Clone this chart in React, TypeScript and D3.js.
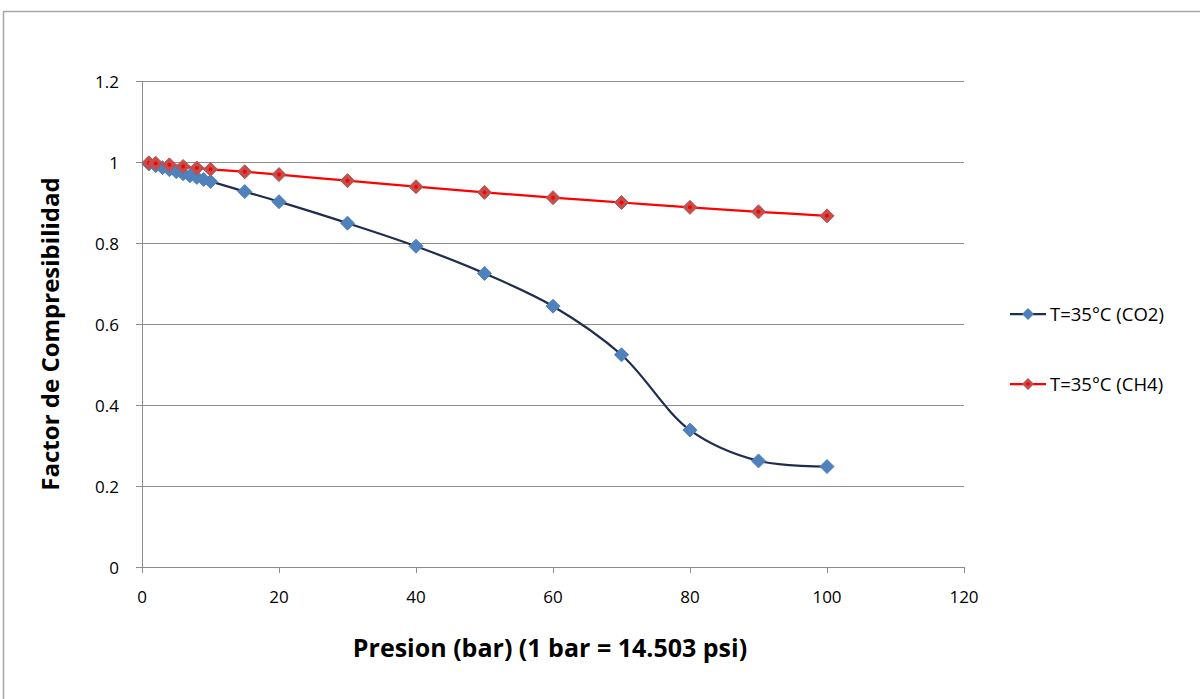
import React from "react";
import * as d3 from "d3";

const xTicks = [0, 20, 40, 60, 80, 100, 120];
const yTicks = [0, 0.2, 0.4, 0.6, 0.8, 1.0, 1.2];

const co2Pressure = [1, 2, 3, 4, 5, 6, 7, 8, 9, 10, 15, 20, 30, 40, 50, 60, 70, 80, 90, 100];
const co2Z = [0.995, 0.991, 0.986, 0.981, 0.976, 0.971, 0.966, 0.962, 0.957, 0.952, 0.927, 0.902, 0.849, 0.792, 0.725, 0.644, 0.524, 0.338, 0.262, 0.248];

const ch4Pressure = [1, 2, 4, 6, 8, 10, 15, 20, 30, 40, 50, 60, 70, 80, 90, 100];
const ch4Z = [0.998, 0.997, 0.993, 0.989, 0.985, 0.982, 0.976, 0.969, 0.954, 0.939, 0.925, 0.912, 0.900, 0.888, 0.877, 0.867];

const seriesNames = ["T=35°C (CO2)", "T=35°C (CH4)"];

const FONT = "'Open Sans', Lato, 'Liberation Sans', sans-serif";

export default function App() {
  const W = 1200, H = 699;
  const x = d3.scaleLinear().domain([0, 120]).range([142, 964]);
  const y = d3.scaleLinear().domain([0, 1.2]).range([567, 81]);

  const co2 = co2Pressure.map((p, i) => [p, co2Z[i]] as [number, number]);
  const ch4 = ch4Pressure.map((p, i) => [p, ch4Z[i]] as [number, number]);

  const line = d3.line<[number, number]>()
    .x(d => x(d[0]))
    .y(d => y(d[1]))
    .curve(d3.curveCatmullRom.alpha(0.5));

  const diamond = (cx: number, cy: number, r: number) =>
    `M${cx},${cy - r}L${cx + r},${cy}L${cx},${cy + r}L${cx - r},${cy}Z`;

  return (
    <svg width={W} height={H} style={{ position: "absolute", left: 0, top: 0, background: "#fff" }}>
      <rect x={3.5} y={11.5} width={1210} height={700} fill="#fff" stroke="#a6a6a6" strokeWidth={1.5} />
      {yTicks.map(t => (
        <g key={"gy" + t}>
          <line x1={x(0) - 6} x2={x(120)} y1={Math.round(y(t)) + 0.5} y2={Math.round(y(t)) + 0.5} stroke="#8c8c8c" strokeWidth={1} />
          <text x={x(0) - 23} y={y(t) + 6.5} textAnchor="end" fontFamily={FONT} fontSize={17} fill="#000">{t === 1 ? "1" : t === 0 ? "0" : t.toFixed(1)}</text>
        </g>
      ))}
      <line x1={x(0) + 0.5} x2={x(0) + 0.5} y1={y(1.2)} y2={y(0) + 6} stroke="#8c8c8c" strokeWidth={1} />
      {xTicks.map(t => (
        <g key={"gx" + t}>
          <line x1={Math.round(x(t)) + 0.5} x2={Math.round(x(t)) + 0.5} y1={y(0)} y2={y(0) + 6} stroke="#8c8c8c" strokeWidth={1} />
          <text x={x(t)} y={y(0) + 36} textAnchor="middle" fontFamily={FONT} fontSize={17} fill="#000">{t}</text>
        </g>
      ))}
      <path d={line(co2) || ""} fill="none" stroke="#1f2d4e" strokeWidth={2.25} />
      <path d={line(ch4) || ""} fill="none" stroke="#ff0000" strokeWidth={2.25} />
      {co2.map((d, i) => (
        <path key={"c" + i} d={diamond(x(d[0]), y(d[1]), 7)} fill="#4f81bd" stroke="#4f81bd" strokeWidth={1} />
      ))}
      {ch4.map((d, i) => (
        <g key={"m" + i}>
          <path d={diamond(x(d[0]), y(d[1]), 7)} fill="#c0504d" stroke="#c0504d" strokeWidth={1} />
          <circle cx={x(d[0])} cy={y(d[1])} r={2} fill="#ff0000" />
        </g>
      ))}
      {seriesNames.map((name, i) => {
        const ly = 314 + i * 70;
        const isCo2 = i === 0;
        return (
          <g key={"lg" + i}>
            <line x1={1010} x2={1046} y1={ly} y2={ly} stroke={isCo2 ? "#1f2d4e" : "#ff0000"} strokeWidth={2.25} />
            <path d={diamond(1028, ly, 6)} fill={isCo2 ? "#4f81bd" : "#c0504d"} />
            {!isCo2 && <circle cx={1028} cy={ly} r={1.8} fill="#ff0000" />}
            <text x={1050} y={ly + 6.5} fontFamily={FONT} fontSize={18.5} fill="#000">{name}</text>
          </g>
        );
      })}
      <text x={550} y={657} textAnchor="middle" fontFamily={FONT} fontWeight="bold" fontSize={25} fill="#000">Presion (bar) (1 bar = 14.503 psi)</text>
      <text transform={`translate(59,334) rotate(-90)`} textAnchor="middle" fontFamily={FONT} fontWeight="bold" fontSize={24} fill="#000">Factor de Compresibilidad</text>
    </svg>
  );
}
